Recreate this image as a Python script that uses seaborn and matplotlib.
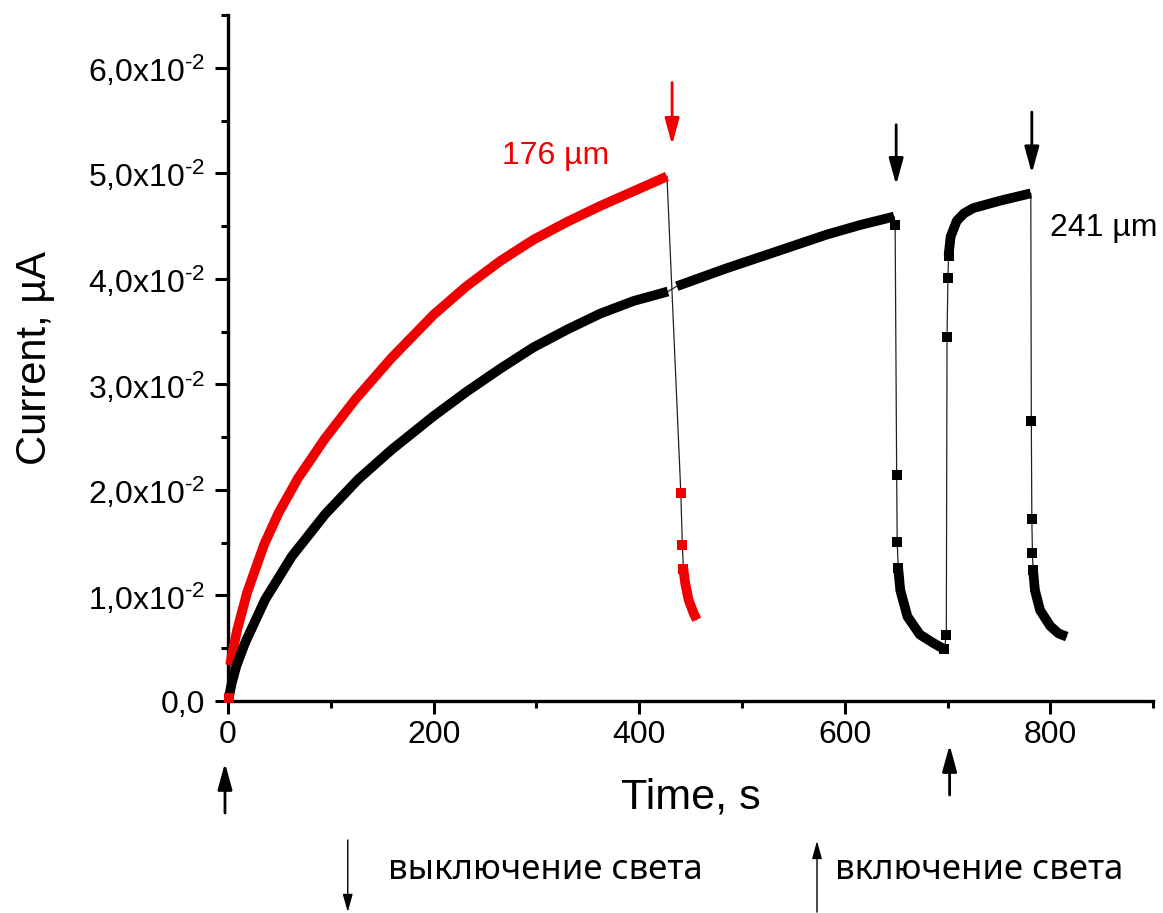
import matplotlib
matplotlib.use('Agg')
import matplotlib.pyplot as plt
from matplotlib.patches import FancyArrowPatch
from matplotlib.ticker import MultipleLocator
import seaborn as sns

# ДАННЫЕ (время, с / ток, мкА)
# 176 um (красная кривая)
red_start_t = [0.5]
red_start_i = [0.0003]
red_on_t = [2, 4, 9, 18.6, 35, 49, 68, 94.5, 124, 159, 200, 232, 265, 297, 330, 362, 394.5, 427]
red_on_i = [0.0034, 0.0045, 0.0068, 0.0103, 0.0148, 0.0178, 0.0211, 0.0249, 0.0286, 0.0325,
            0.0366, 0.0393, 0.0417, 0.0437, 0.0454, 0.0469, 0.0483, 0.0497]
red_fall_t = [440.5, 442, 443]
red_fall_i = [0.0197, 0.0148, 0.0125]
red_off_t = [443, 444.7, 448, 453, 456]
red_off_i = [0.0125, 0.0112, 0.0096, 0.0083, 0.0077]

# 241 um (черная кривая)
blk_on1_t = [0.5, 3.6, 8, 16.5, 36, 62, 94.5, 126.6, 159, 188.5, 200, 232, 265, 297, 330, 362, 394.5, 428]
blk_on1_i = [0.0002, 0.0017, 0.0033, 0.0055, 0.0096, 0.0137, 0.0177, 0.0210, 0.0238, 0.0261,
             0.0270, 0.0293, 0.0315, 0.0335, 0.0352, 0.0367, 0.0379, 0.0388]
blk_on2_t = [436.6, 485, 534, 582.7, 615, 648]
blk_on2_i = [0.0393, 0.0410, 0.0426, 0.0442, 0.0451, 0.0459]
blk_fall1_t = [649, 650.5, 651, 652]
blk_fall1_i = [0.0451, 0.0214, 0.0151, 0.0126]
blk_off1_t = [652, 654, 661, 673, 686, 697]
blk_off1_i = [0.0126, 0.0105, 0.0080, 0.0063, 0.0055, 0.0049]
blk_rise_t = [697, 698.8, 699.5, 700.4, 701]
blk_rise_i = [0.0049, 0.0063, 0.0345, 0.0401, 0.0422]
blk_on3_t = [701, 703, 709, 716, 725, 751, 781]
blk_on3_i = [0.0422, 0.0440, 0.0455, 0.0462, 0.0467, 0.0474, 0.0481]
blk_fall2_t = [781.5, 782, 782.6, 783.2]
blk_fall2_i = [0.0265, 0.0172, 0.0140, 0.0124]
blk_off2_t = [783.2, 785, 790, 800, 808, 816]
blk_off2_i = [0.0124, 0.0105, 0.0086, 0.0071, 0.0064, 0.0061]

ytick_vals = [0, 0.01, 0.02, 0.03, 0.04, 0.05, 0.06]
ytick_labels = ['0,0', '1,0x10$^{‐2}$', '2,0x10$^{‐2}$', '3,0x10$^{‐2}$',
                '4,0x10$^{‐2}$', '5,0x10$^{‐2}$', '6,0x10$^{‐2}$']
xtick_vals = [0, 200, 400, 600, 800]

RED = '#f00000'
BLACK = '#000000'

sns.set_theme(style='ticks')
plt.rcParams['font.family'] = ['Liberation Sans', 'DejaVu Sans']
plt.rcParams['mathtext.fontset'] = 'custom'
plt.rcParams['mathtext.rm'] = 'Liberation Sans'
plt.rcParams['mathtext.it'] = 'Liberation Sans:italic'
plt.rcParams['mathtext.default'] = 'regular'
for k in ['text.color', 'axes.labelcolor', 'xtick.color', 'ytick.color']:
    plt.rcParams[k] = 'black'

fig = plt.figure(figsize=(11.63, 9.13), dpi=100)
ax = fig.add_axes([0.1961, 0.2322, 0.7954, 0.7514])


def thin(t, i):
    sns.lineplot(x=t, y=i, ax=ax, color='#222222', lw=0.9, sort=False, estimator=None,
                 zorder=2, clip_on=False)


def dense(t, i, color):
    sns.lineplot(x=t, y=i, ax=ax, color=color, lw=7, sort=False, estimator=None,
                 solid_capstyle='butt', solid_joinstyle='round', zorder=3, clip_on=False)


def sparse(t, i, color):
    sns.scatterplot(x=t, y=i, ax=ax, color=color, marker='s', s=50, linewidth=0,
                    zorder=4, clip_on=False)


# красная серия
thin(red_start_t + red_on_t + red_fall_t + red_off_t,
     red_start_i + red_on_i + red_fall_i + red_off_i)
dense(red_on_t, red_on_i, RED)
dense(red_off_t, red_off_i, RED)
sparse(red_start_t, red_start_i, RED)
sparse(red_fall_t, red_fall_i, RED)

# черная серия
thin(blk_on1_t + blk_on2_t + blk_fall1_t + blk_off1_t + blk_rise_t + blk_on3_t + blk_fall2_t + blk_off2_t,
     blk_on1_i + blk_on2_i + blk_fall1_i + blk_off1_i + blk_rise_i + blk_on3_i + blk_fall2_i + blk_off2_i)
for t, i in [(blk_on1_t, blk_on1_i), (blk_on2_t, blk_on2_i), (blk_off1_t, blk_off1_i),
             (blk_on3_t, blk_on3_i), (blk_off2_t, blk_off2_i)]:
    dense(t, i, BLACK)
sparse(blk_fall1_t, blk_fall1_i, BLACK)
sparse(blk_rise_t, blk_rise_i, BLACK)
sparse(blk_fall2_t, blk_fall2_i, BLACK)

# оси
ax.set_xlim(0, 900)
ax.set_ylim(0, 0.065)
ax.set_xticks(xtick_vals)
ax.set_yticks(ytick_vals, labels=ytick_labels)
ax.xaxis.set_minor_locator(MultipleLocator(100))
ax.yaxis.set_minor_locator(MultipleLocator(0.005))
ax.tick_params(which='major', length=9.5, width=2.2, labelsize=23, color='black', labelcolor='black')
ax.tick_params(which='minor', length=5, width=2.2, color='black')
ax.tick_params(axis='y', pad=7)
ax.tick_params(axis='x', pad=4)
for s in ['left', 'bottom']:
    ax.spines[s].set_linewidth(2.4)
    ax.spines[s].set_color('black')
sns.despine(ax=ax)

ax.set_xlabel('Time, s', fontsize=31)
ax.set_ylabel('Current, µA', fontsize=30)
ax.xaxis.set_label_coords(0.5, -0.112)
ax.yaxis.set_label_coords(-0.187, 0.5)

ax.text(267, 0.0516, '176 µm', color=RED, fontsize=23, ha='left', va='center')
ax.text(800, 0.0448, '241 µm', color=BLACK, fontsize=23, ha='left', va='center')

# стрелки выключения света
big_head = '-|>,head_length=0.8,head_width=0.22'
for x, y0, y1, c in [(432, 0.0586, 0.0527, RED), (650, 0.0546, 0.0489, BLACK),
                     (782, 0.0558, 0.0500, BLACK)]:
    ax.annotate('', xy=(x, y1), xytext=(x, y0),
                arrowprops=dict(arrowstyle=big_head, color=c, lw=2, mutation_scale=20,
                                shrinkA=0, shrinkB=0))

# стрелки включения света (под осью)
for x, y0, y1 in [(-3, 0.1095, 0.1643), (702, 0.1292, 0.184)]:
    ax.annotate('', xy=(x, y1), xytext=(x, y0), xycoords=('data', 'figure fraction'),
                textcoords=('data', 'figure fraction'), annotation_clip=False,
                arrowprops=dict(arrowstyle=big_head, color=BLACK, lw=2, mutation_scale=20,
                                shrinkA=0, shrinkB=0))

# легенда внизу
small_head = '-|>,head_length=0.9,head_width=0.25'
fig.add_artist(FancyArrowPatch((0.299, 0.080), (0.299, 0.001), transform=fig.transFigure,
                               arrowstyle=small_head, mutation_scale=12, lw=1, color=BLACK,
                               shrinkA=0, shrinkB=0))
fig.add_artist(FancyArrowPatch((0.7025, 0.001), (0.7025, 0.079), transform=fig.transFigure,
                               arrowstyle=small_head, mutation_scale=12, lw=1, color=BLACK,
                               shrinkA=0, shrinkB=0))
fig.text(0.3336, 0.037, 'выключение света', fontsize=25, family=['Noto Sans', 'DejaVu Sans'],
         ha='left', va='baseline')
fig.text(0.718, 0.037, 'включение света', fontsize=25, family=['Noto Sans', 'DejaVu Sans'],
         ha='left', va='baseline')

fig.savefig('out.png', dpi=100, facecolor='white')
